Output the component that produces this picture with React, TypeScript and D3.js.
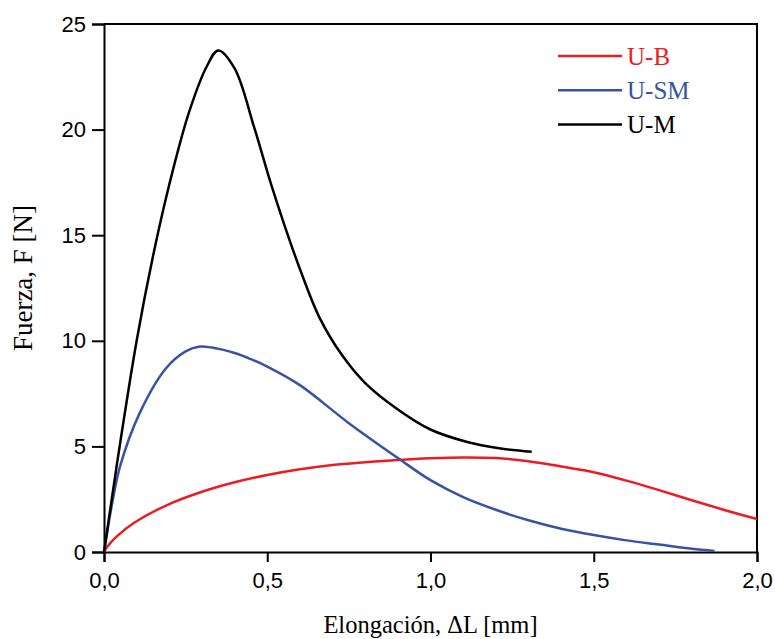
import React, { useEffect, useRef } from "react";
import * as d3 from "d3";

// elongation [mm] / force [N]
const umX = [0, 0.02, 0.04, 0.1, 0.15, 0.2, 0.26, 0.315, 0.35, 0.4, 0.46, 0.51, 0.55, 0.6, 0.66, 0.73, 0.8, 0.9, 1.0, 1.11, 1.21, 1.31];
const umY = [0, 2.1, 4.2, 10.0, 14.0, 17.4, 20.8, 23.0, 23.75, 22.9, 20.1, 17.5, 15.6, 13.4, 11.1, 9.3, 8.0, 6.75, 5.8, 5.22, 4.91, 4.75];

const usmX = [0, 0.01, 0.025, 0.05, 0.11, 0.19, 0.25, 0.29, 0.33, 0.4, 0.45, 0.5, 0.6, 0.75, 0.9, 1.0, 1.1, 1.2, 1.3, 1.4, 1.5, 1.6, 1.7, 1.8, 1.87];
const usmY = [0, 0.95, 2.3, 4.1, 6.6, 8.7, 9.5, 9.72, 9.68, 9.42, 9.13, 8.78, 7.9, 6.1, 4.45, 3.4, 2.6, 2.0, 1.5, 1.1, 0.8, 0.55, 0.35, 0.15, 0.05];

const ubX = [0, 0.01, 0.04, 0.09, 0.19, 0.3, 0.4, 0.5, 0.6, 0.7, 0.8, 0.9, 1.0, 1.1, 1.2, 1.3, 1.4, 1.5, 1.6, 1.7, 1.8, 1.9, 2.0];
const ubY = [0, 0.25, 0.75, 1.36, 2.2, 2.85, 3.3, 3.65, 3.92, 4.12, 4.25, 4.36, 4.44, 4.48, 4.45, 4.3, 4.05, 3.78, 3.38, 2.93, 2.45, 1.99, 1.56];

const seriesNames = ["U-B", "U-SM", "U-M"];
const seriesColors = ["#ed1c24", "#3953a4", "#000000"];

const xTicks = [0, 0.5, 1.0, 1.5, 2.0];
const yTicks = [0, 5, 10, 15, 20, 25];

const App = () => {
  const svgRef = useRef<SVGSVGElement>(null);

  useEffect(() => {
    const svg = d3.select(svgRef.current);
    svg.selectAll("*").remove();

    const margin = { top: 24, right: 18, bottom: 87, left: 104 };
    const width = 775;
    const height = 639;

    const x = d3.scaleLinear().domain([0, 2]).range([margin.left, width - margin.right]);
    const y = d3.scaleLinear().domain([0, 25]).range([height - margin.bottom, margin.top]);

    const fmt = (d: number) => d3.format(".1f")(d).replace(".", ",");

    // frame (top and right)
    svg.append("path")
      .attr("d", `M${x(0)},${y(25)}H${x(2)}V${y(0)}`)
      .attr("fill", "none")
      .attr("stroke", "#000")
      .attr("stroke-width", 2);

    // x axis
    const gx = svg.append("g").attr("transform", `translate(0,${y(0)})`);
    gx.call(d3.axisBottom(x).tickValues(d3.range(0, 2.01, 0.25)).tickSize(6).tickFormat(() => ""));
    gx.call(d3.axisBottom(x).tickValues(xTicks).tickSize(10).tickFormat((d) => fmt(d as number)));
    gx.selectAll(".domain").attr("stroke-width", 2);
    gx.selectAll("line").attr("stroke-width", 2);
    gx.selectAll("text")
      .attr("font-family", "Liberation Sans, Arial, sans-serif")
      .attr("font-size", 22)
      .attr("y", 36)
      .attr("dy", 0)
      .attr("fill", "#000");

    // y axis
    const gy = svg.append("g").attr("transform", `translate(${x(0)},0)`);
    gy.call(d3.axisLeft(y).tickValues(d3.range(0, 25.1, 2.5)).tickSize(6).tickFormat(() => ""));
    gy.call(d3.axisLeft(y).tickValues(yTicks).tickSize(12).tickFormat((d) => String(d)));
    gy.selectAll(".domain").attr("stroke-width", 2);
    gy.selectAll("line").attr("stroke-width", 2);
    gy.selectAll("text")
      .attr("font-family", "Liberation Sans, Arial, sans-serif")
      .attr("font-size", 22)
      .attr("x", -18)
      .attr("fill", "#000");

    // curves
    const series = [
      { xs: ubX, ys: ubY },
      { xs: usmX, ys: usmY },
      { xs: umX, ys: umY },
    ];
    const line = d3.line<[number, number]>()
      .x((d) => x(d[0]))
      .y((d) => y(d[1]))
      .curve(d3.curveCatmullRom.alpha(0.5));

    series.forEach((s, i) => {
      svg.append("path")
        .datum(s.xs.map((v, j) => [v, s.ys[j]] as [number, number]))
        .attr("fill", "none")
        .attr("stroke", seriesColors[i])
        .attr("stroke-width", 2.5)
        .attr("stroke-linejoin", "round")
        .attr("d", line);
    });

    // legend
    const lg = svg.append("g");
    seriesNames.forEach((name, i) => {
      const ly = 56 + i * 34.3;
      lg.append("line")
        .attr("x1", 558).attr("x2", 622)
        .attr("y1", ly).attr("y2", ly)
        .attr("stroke", seriesColors[i])
        .attr("stroke-width", 2.5);
      lg.append("text")
        .attr("x", 627).attr("y", ly + 8.5)
        .attr("font-family", "Liberation Serif, Times New Roman, serif")
        .attr("font-size", 25)
        .attr("fill", seriesColors[i])
        .text(name);
    });

    // axis titles
    svg.append("text")
      .attr("x", (x(0) + x(2)) / 2)
      .attr("y", 633)
      .attr("text-anchor", "middle")
      .attr("font-family", "Liberation Serif, Times New Roman, serif")
      .attr("font-size", 24.5)
      .text("Elongación, ΔL [mm]");

    svg.append("text")
      .attr("transform", `translate(32,278) rotate(-90)`)
      .attr("text-anchor", "middle")
      .attr("font-family", "Liberation Serif, Times New Roman, serif")
      .attr("font-size", 27)
      .text("Fuerza, F [N]");
  }, []);

  return <svg ref={svgRef} width={775} height={639} style={{ position: "absolute", left: 0, top: 0 }} />;
};

export default App;
